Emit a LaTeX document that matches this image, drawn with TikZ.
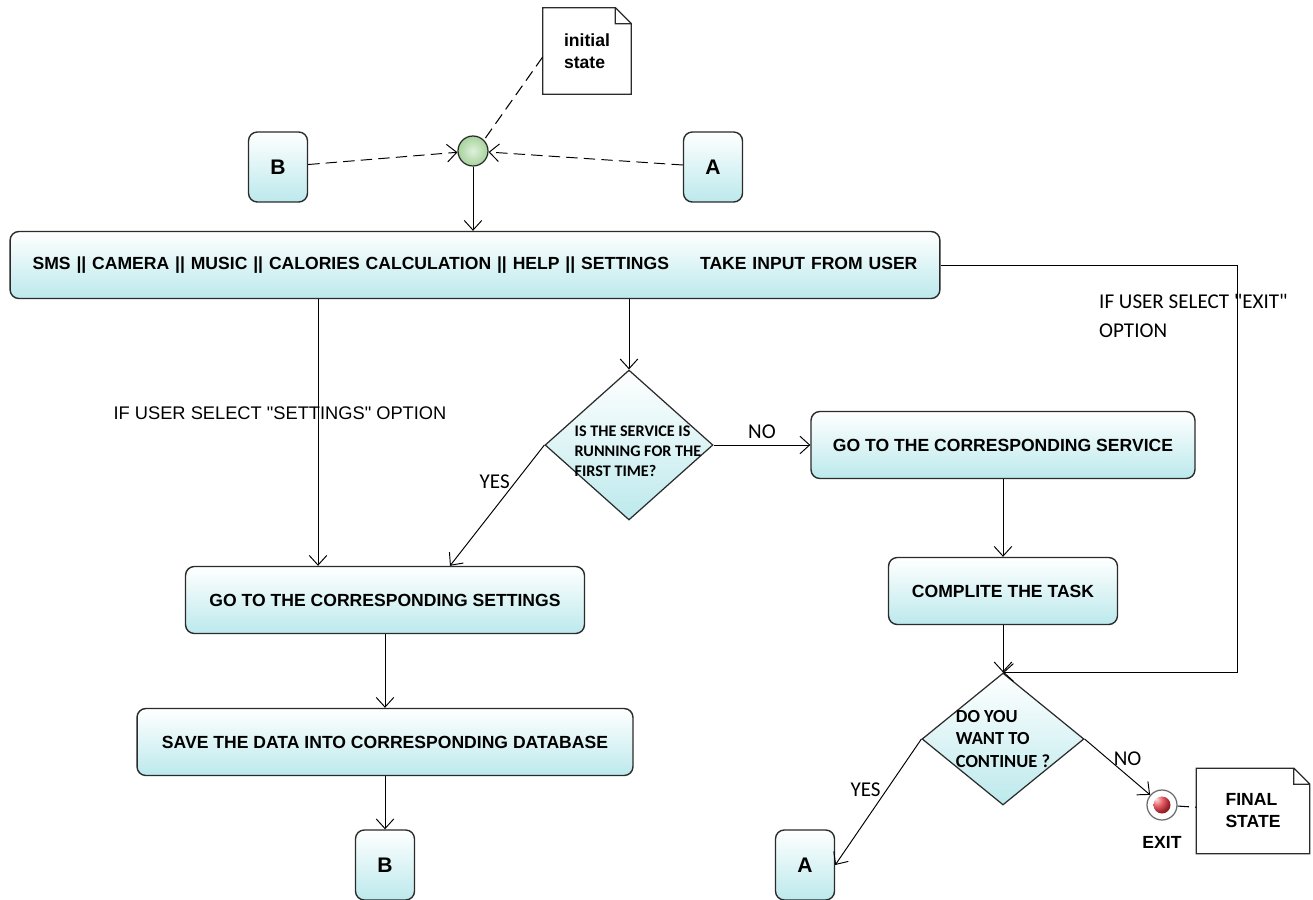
\documentclass[tikz,border=0pt]{standalone}
\usepackage{fontspec}
\setmainfont{Liberation Sans}
\newfontfamily\calibfont{Carlito}
\usepackage{xcolor}
\usepackage{tikz}
\usetikzlibrary{arrows.meta,positioning,shapes.geometric,calc}
\definecolor{boxcyan}{HTML}{BCE9EC}
\definecolor{boxline}{HTML}{2B2B2B}
\definecolor{startgreen}{HTML}{A6D39C}
\definecolor{endred}{HTML}{E0303A}
\tikzset{
  actbox/.style={
    rectangle, rounded corners=5pt, draw=boxline, line width=0.8pt,
    top color=white, bottom color=boxcyan,
    minimum height=1.34cm, inner sep=3pt,
    font=\fontsize{10}{12}\selectfont\bfseries, align=center
  },
  jumpbox/.style={
    actbox, minimum width=1.18cm, minimum height=1.4cm,
    font=\fontsize{12}{14}\selectfont\bfseries
  },
  decbox/.style={
    diamond, draw=boxline, line width=0.7pt, inner sep=0pt,
    top color=white, bottom color=boxcyan
  },
  dectext/.style={
    font=\calibfont\bfseries\fontsize{9.2}{11.5}\selectfont, align=left
  },
  bigdectext/.style={
    font=\calibfont\bfseries\fontsize{10.5}{13}\selectfont, align=left
  },
  startdot/.style={
    circle, draw=boxline, line width=0.7pt, minimum size=0.6cm, inner sep=0pt,
    inner color=startgreen!35, outer color=startgreen
  },
  enddot/.style={
    circle, draw=boxline!70, line width=0.7pt, minimum size=0.6cm, inner sep=0pt,
    fill=white,
    path picture={\shade[ball color=endred] (path picture bounding box.center) circle (0.17cm);}
  },
  notebox/.style={
    rectangle, fill=white, inner sep=2pt, align=left,
    font=\fontsize{10}{12.5}\selectfont\bfseries
  },
  noteedge/.style={draw=boxline, line width=0.7pt},
  flow/.style={-{Straight Barb[length=5.5pt, width=10pt]}, line width=0.55pt, color=black},
  noteflow/.style={flow, dash pattern=on 6.5pt off 3.5pt},
  noteline/.style={line width=0.6pt, dash pattern=on 6.5pt off 3.5pt},
  condlabel/.style={font=\calibfont\fontsize{12}{17}\selectfont, align=left},
  plainlabel/.style={font=\fontsize{10.4}{12.5}\selectfont},
}
% folded corner of a note
\newcommand{\dognote}[1]{%
  \draw[noteedge] (#1.north west) -- ([xshift=-0.32cm]#1.north east)
    -- ([yshift=-0.32cm]#1.north east) -- (#1.south east) -- (#1.south west) -- cycle
    ([xshift=-0.32cm]#1.north east) |- ([yshift=-0.32cm]#1.north east);}

\begin{document}
\begin{tikzpicture}[x=0.02cm, y=-0.02cm]
  \path[use as bounding box, fill=white] (0,0) rectangle (1313,900);

  % start
  \node[notebox, minimum width=1.76cm, minimum height=1.72cm] (initnote) at (587,51) {initial\\state};
  \dognote{initnote}
  \node[startdot] (init) at (473,151) {};
  \node[jumpbox] (btop) at (278,167) {B};
  \node[jumpbox] (atop) at (713,167) {A};
  \draw[noteflow] (btop) -- (init);
  \draw[noteflow] (atop) -- (init);
  \draw[noteline] ([yshift=-0.12cm]initnote.west) -- (init.north east);

  \node[actbox, minimum width=18.6cm, text width=17.7cm, align=left] (input) at (475,265)
    {SMS || CAMERA || MUSIC || CALORIES CALCULATION || HELP || SETTINGS\hfill TAKE INPUT FROM USER\hspace*{0.25cm}};
  \draw[flow] (init) -- (init |- input.north);

  % settings branch
  \node[actbox, minimum width=7.98cm] (settings) at (385,600) {GO TO THE CORRESPONDING SETTINGS};
  \node[actbox, minimum width=9.92cm] (savedb) at (385,742) {SAVE THE DATA INTO CORRESPONDING DATABASE};
  \node[jumpbox] (bbot) at (385,865) {B};
  \node[plainlabel] (setlbl) at (280,413) {IF USER SELECT \textquotedbl SETTINGS\textquotedbl\ OPTION};
  \draw[flow] ([xshift=-1.34cm]settings.north |- input.south) -- ([xshift=-1.34cm]settings.north);
  \draw[flow] (settings) -- (savedb);
  \draw[flow] (savedb) -- (bbot);

  % service branch
  \node[decbox, minimum width=3.36cm, minimum height=3cm,
    label={[dectext, xshift=0.18cm, yshift=-0.12cm]center:{IS THE SERVICE IS\\RUNNING FOR THE\\FIRST TIME?}}]
    (firstrun) at (629,445) {};
  \draw[flow] (input.south -| firstrun.north) -- (firstrun.north);
  \node[actbox, minimum width=7.68cm] (service) at (1003,445) {GO TO THE CORRESPONDING SERVICE};
  \draw[flow] (firstrun.east) -- (service.west) node[midway, above, condlabel] {NO};
  \draw[flow] (firstrun.west) -- ([xshift=1.3cm]settings.north) node[pos=0.3, left, condlabel] {YES};
  \node[actbox, minimum width=4.58cm] (complite) at (1003,591) {COMPLITE THE TASK};
  \draw[flow] (service) -- (complite);

  \node[decbox, minimum width=3.24cm, minimum height=2.64cm,
    label={[bigdectext]center:{DO YOU\\WANT TO\\CONTINUE ?}}]
    (cont) at (1003,739) {};
  \draw[flow] (complite) -- (cont);

  % exit option loops into the question
  \draw[flow] (input.east) -- ++(297,0) |- (cont.north);
  \node[condlabel, anchor=west] (exitlbl) at (1093,316) {IF USER SELECT \textquotedbl EXIT\textquotedbl\\OPTION};

  % end
  \node[jumpbox] (abot) at (805,865) {A};
  \draw[flow] (cont.west) -- (abot.east) node[pos=0.4, left, condlabel] {YES};
  \node[enddot] (final) at (1162,805) {};
  \draw[flow] (cont.east) -- (final) node[pos=0.35, right, condlabel] {NO};
  \node[font=\fontsize{10}{12}\selectfont\bfseries, inner sep=0pt, below=0.3cm of final] (exitname) {EXIT};
  \node[notebox, minimum width=2.26cm, minimum height=1.7cm] (finalnote) at (1253,811) {FINAL\\STATE};
  \dognote{finalnote}
  \draw[noteline] (final) -- (finalnote);
\end{tikzpicture}
\end{document}
